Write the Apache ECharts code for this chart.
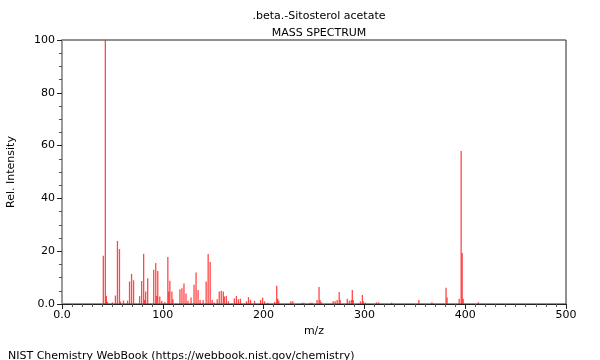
<!DOCTYPE html>
<html>
<head>
<meta charset="utf-8">
<script src="https://cdn.jsdelivr.net/npm/echarts@6/dist/echarts.min.js"></script>
<style>
html,body{margin:0;padding:0;background:#fff;}
#chart{width:600px;height:360px;}
</style>
</head>
<body>
<div id="chart"></div>
<script>
var mz = [41,43,44,45,50,53,55,57,58,61,65,67,69,71,77,79,81,82,83,85,91,93,94,95,97,99,102,105,106,107,109,110,117,119,121,123,125,128,131,133,135,137,140,143,145,147,149,151,154,156,158,160,161,163,165,171,173,175,177,183,185,187,191,197,199,201,204,211,213,214,215,227,229,238,240,246,248,253,255,256,257,269,271,273,275,276,283,285,287,288,289,296,298,299,301,312,314,327,354,367,381,382,394,396,397,398,413];
var intensity = [18.3,100,3,0.8,0.6,3.2,23.9,20.8,0.9,1.3,1.3,8.5,11.4,9,3,8.7,19,1.5,4.7,9.8,13,15.5,3,12.5,2.8,1.1,0.8,17.8,4.7,8.8,4.7,1.8,5.6,6,7.8,4,1.2,2.5,7.3,11.9,5.3,1.5,1.5,8.5,18.9,15.9,1.5,0.6,1.8,4.7,5,4.7,2.8,3,1,2.1,3,1.8,2,1,2.6,1.5,1.2,1.5,2.4,1,0.5,0.8,6.9,2,1.2,1,1,0.5,0.5,0.5,0.5,1.5,6.4,1.5,0.8,1,1,1.5,4.5,1.5,2,1.2,1.5,5.3,1.5,1,3.4,1,0.5,0.6,0.6,0.5,1.5,0.7,6.2,2.5,2,58,19.3,2,0.7];
var titleText = '.beta.-Sitosterol acetate';
var subtitleText = 'MASS SPECTRUM';
var xName = 'm/z';
var yName = 'Rel. Intensity';
var footer = 'NIST Chemistry WebBook (https://webbook.nist.gov/chemistry)';

var data = mz.map(function(m, i){ return [m, intensity[i]]; });
var font = 'DejaVu Sans';
var chart = echarts.init(document.getElementById('chart'), null, {renderer:'canvas'});
chart.setOption({
  animation:false,
  backgroundColor:'#fff',
  title:[
    {text:titleText, left:314, top:6, textAlign:'center', textStyle:{fontFamily:font, fontSize:11, fontWeight:'normal', color:'#000'}},
    {text:subtitleText, left:314, top:23, textAlign:'center', textStyle:{fontFamily:font, fontSize:11, fontWeight:'normal', color:'#000'}},
    {text:footer, left:3, top:346, textStyle:{fontFamily:font, fontSize:11, fontWeight:'normal', color:'#000'}}
  ],
  grid:{left:62, right:34, top:40, bottom:56, show:true, borderColor:'#222', borderWidth:1, containLabel:false, outerBoundsMode:'none'},
  xAxis:{
    type:'value', min:0, max:500, interval:100,
    name:xName, nameLocation:'middle', nameGap:22,
    nameTextStyle:{fontFamily:font, fontSize:11, color:'#000'},
    axisLine:{show:true, onZero:false, lineStyle:{color:'#222', width:1}},
    axisTick:{show:true, length:5, lineStyle:{color:'#222'}},
    minorTick:{show:true, splitNumber:10, length:3, lineStyle:{color:'#555'}},
    splitLine:{show:false},
    axisLabel:{fontFamily:font, fontSize:11, color:'#000', margin:6, formatter:function(v){return v===0?'0.0':String(v);}}
  },
  yAxis:{
    type:'value', min:0, max:100, interval:20,
    name:yName, nameLocation:'middle', nameGap:45, nameRotate:90,
    nameTextStyle:{fontFamily:font, fontSize:11, color:'#000'},
    axisLine:{show:true, lineStyle:{color:'#999', width:2}},
    axisTick:{show:true, length:5, lineStyle:{color:'#222'}},
    minorTick:{show:true, splitNumber:4, length:3, lineStyle:{color:'#555'}},
    splitLine:{show:false},
    axisLabel:{fontFamily:font, fontSize:11, color:'#000', margin:7, formatter:function(v){return v===0?'0.0':String(v);}}
  },
  series:[{
    type:'bar', data:data, barWidth:1.3, barGap:'-100%',
    itemStyle:{color:'rgba(255,20,20,0.78)'},
    silent:true
  }]
});
</script>
</body>
</html>
